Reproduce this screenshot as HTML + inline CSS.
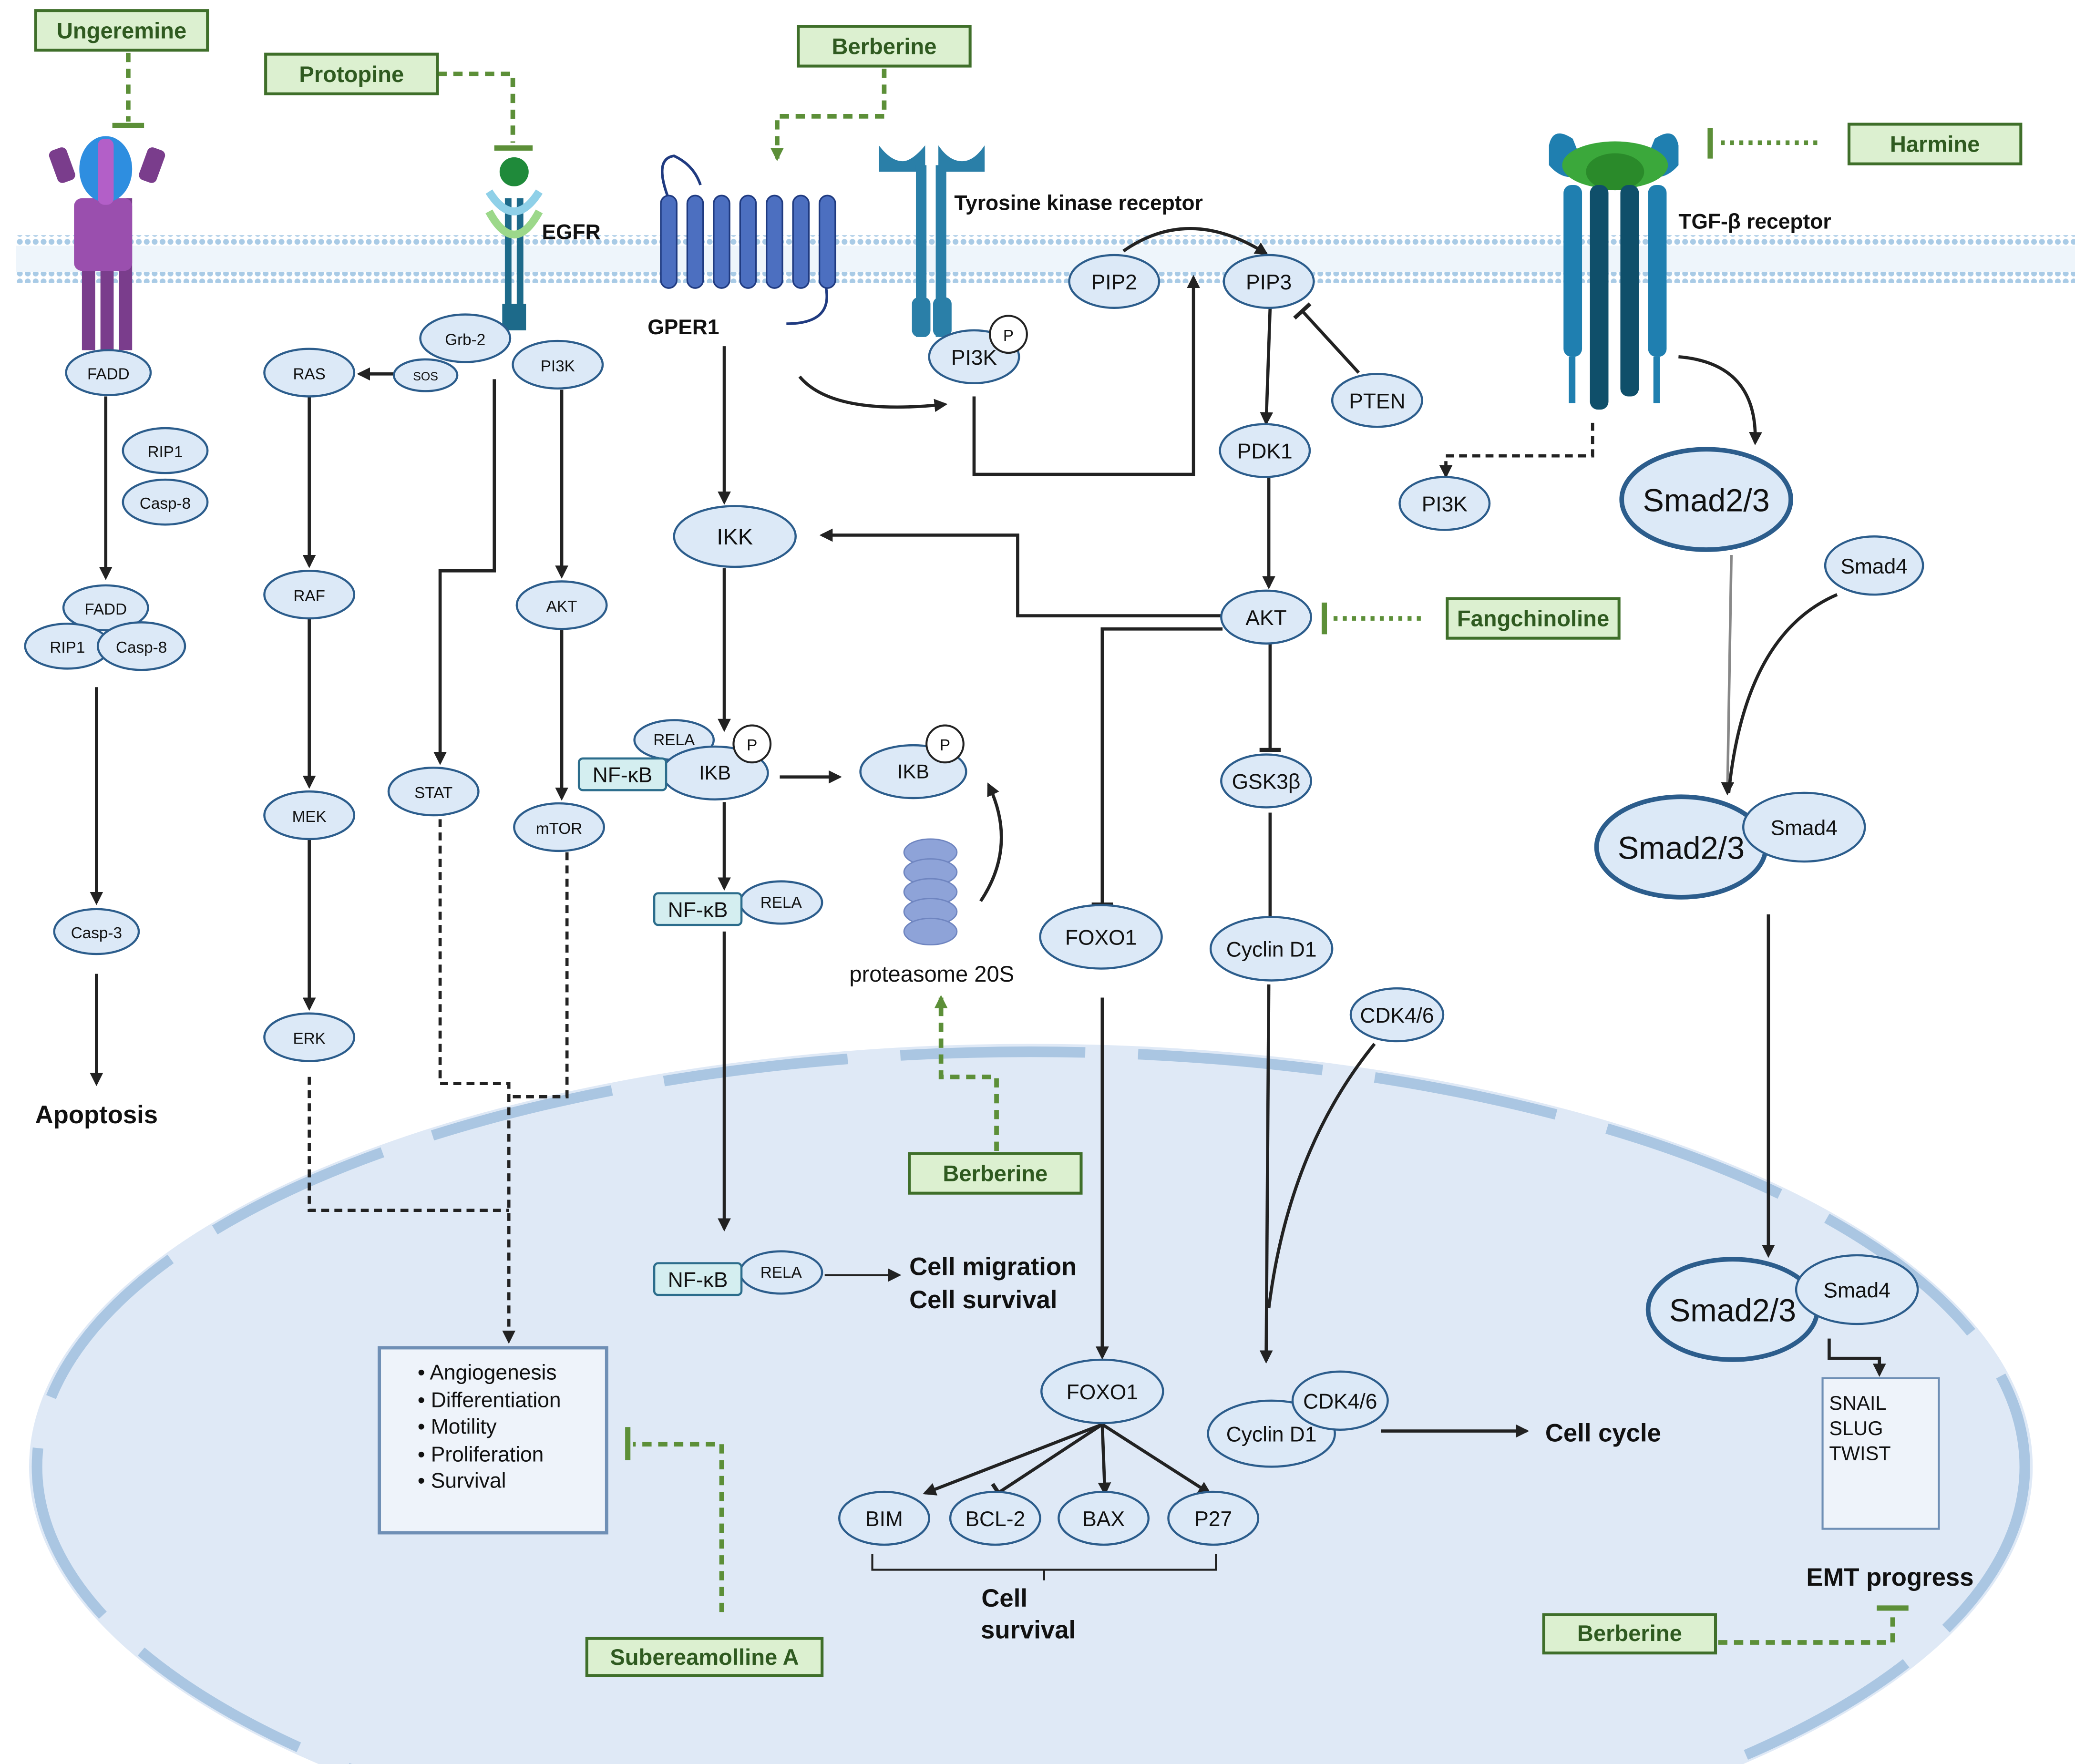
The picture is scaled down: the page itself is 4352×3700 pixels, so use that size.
<!DOCTYPE html>
<html><head><meta charset="utf-8">
<style>
html,body{margin:0;padding:0;background:#fff;overflow:hidden;width:4352px;height:3700px;}
svg{display:block;}
text{font-family:"Liberation Sans",sans-serif;fill:#111;}
.n{fill:#dce9f7;stroke:#2c5d8c;stroke-width:1.6;}
.nb{fill:#dce9f7;stroke:#2c5d8c;stroke-width:3.5;}
.g{fill:#dcf0d0;stroke:#3f6f2a;stroke-width:2.2;}
.gt{font-size:17px;font-weight:bold;text-anchor:middle;fill:#2f5a20;}
.t{font-size:15px;text-anchor:middle;}
.ts{font-size:12px;text-anchor:middle;}
.a{stroke:#222;stroke-width:2.4;fill:none;}
.d{stroke:#222;stroke-width:2.4;fill:none;stroke-dasharray:6 4;}
.gd{stroke:#5c8f38;stroke-width:3.5;fill:none;stroke-dasharray:7 5;}
.gb{stroke:#5c8f38;stroke-width:4;fill:none;}
.b{font-size:19px;font-weight:bold;text-anchor:middle;}
</style></head><body>
<svg width="4352" height="3700" viewBox="0 0 1570 1335" preserveAspectRatio="none" xmlns="http://www.w3.org/2000/svg">
<defs>
<marker id="ar" markerWidth="10" markerHeight="10" refX="8" refY="5" orient="auto" markerUnits="userSpaceOnUse"><path d="M0,0 L10,5 L0,10 z" fill="#222"/></marker>
<marker id="ag" markerWidth="10" markerHeight="10" refX="8" refY="5" orient="auto" markerUnits="userSpaceOnUse"><path d="M0,0 L10,5 L0,10 z" fill="#5c8f38"/></marker>
<marker id="tb" markerWidth="4" markerHeight="16" refX="2" refY="8" orient="auto" markerUnits="userSpaceOnUse"><rect x="0" y="0" width="3" height="16" fill="#222"/></marker>
<pattern id="mem" width="6" height="6" patternUnits="userSpaceOnUse"><circle cx="3" cy="3" r="2.2" fill="#a9cbe6"/></pattern>
</defs>
<rect width="1570" height="1335" fill="#fff"/>
<!-- nucleus -->
<ellipse cx="780" cy="1110" rx="758" ry="320" fill="#dfe9f6"/>
<ellipse cx="780" cy="1110" rx="752" ry="314" fill="none" stroke="#aac6e2" stroke-width="8" stroke-dasharray="140 40"/>
<!-- membrane -->
<rect x="12" y="178" width="1558" height="8" fill="url(#mem)"/>
<rect x="12" y="206" width="1558" height="8" fill="url(#mem)"/>
<rect x="12" y="186" width="1558" height="20" fill="#eef5fb"/>

<!-- receptors (simplified) -->
<g fill="#7a3d8c">
<rect x="62" y="150" width="10" height="115"/><rect x="76" y="150" width="10" height="115"/><rect x="90" y="150" width="10" height="115"/>
<rect x="40" y="112" width="14" height="26" rx="4" transform="rotate(-20 47 125)"/><rect x="108" y="112" width="14" height="26" rx="4" transform="rotate(20 115 125)"/>
<rect x="56" y="150" width="44" height="55" rx="6" fill="#9a4fae"/>
</g>
<ellipse cx="80" cy="128" rx="20" ry="25" fill="#2e8ee0"/>
<rect x="74" y="105" width="12" height="50" rx="5" fill="#b35fc8"/>
<!-- EGFR -->
<g>
<rect x="382" y="150" width="5" height="95" fill="#1d6a8a"/><rect x="391" y="150" width="5" height="95" fill="#1d6a8a"/>
<rect x="380" y="230" width="18" height="20" fill="#1d6a8a"/>
<circle cx="389" cy="130" r="11" fill="#1f8a3a"/>
<path d="M370,145 Q389,175 408,145" stroke="#8fd0e8" stroke-width="6" fill="none"/>
<path d="M370,160 Q389,195 408,160" stroke="#9cd88a" stroke-width="6" fill="none"/>
</g>
<!-- GPER1 -->
<g fill="#4c6fc0" stroke="#1f3a80" stroke-width="1.2">
<rect x="500" y="148" width="12" height="70" rx="6"/><rect x="520" y="148" width="12" height="70" rx="6"/><rect x="540" y="148" width="12" height="70" rx="6"/><rect x="560" y="148" width="12" height="70" rx="6"/><rect x="580" y="148" width="12" height="70" rx="6"/><rect x="600" y="148" width="12" height="70" rx="6"/><rect x="620" y="148" width="12" height="70" rx="6"/>
</g>
<path d="M505,148 Q495,120 510,118 Q525,125 530,140 M625,218 Q630,245 595,245" stroke="#1f3a80" stroke-width="2" fill="none"/>
<!-- Tyrosine kinase receptor -->
<g fill="#2a7fa8">
<path d="M665,110 L665,130 L700,130 L700,110 Q690,122 683,122 Q674,122 665,110z"/>
<path d="M710,110 L710,130 L745,130 L745,110 Q737,122 728,122 Q718,122 710,110z"/>
<rect x="693" y="125" width="8" height="130"/><rect x="708" y="125" width="8" height="130"/>
<rect x="690" y="225" width="14" height="30" rx="5"/><rect x="706" y="225" width="14" height="30" rx="5"/>
</g>
<!-- TGF-beta receptor -->
<g>
<path d="M1172,110 Q1175,95 1190,105 L1200,130 Q1185,140 1172,125z" fill="#1f7fb0"/>
<path d="M1270,110 Q1267,95 1252,105 L1242,130 Q1257,140 1270,125z" fill="#1f7fb0"/>
<ellipse cx="1222" cy="125" rx="40" ry="18" fill="#3ba83b"/>
<ellipse cx="1222" cy="130" rx="22" ry="14" fill="#2a8a2a"/>
<rect x="1183" y="140" width="14" height="130" rx="6" fill="#1f7fb0"/><rect x="1203" y="140" width="14" height="170" rx="6" fill="#0f4f6a"/><rect x="1226" y="140" width="14" height="160" rx="6" fill="#0f4f6a"/><rect x="1247" y="140" width="14" height="130" rx="6" fill="#1f7fb0"/>
<rect x="1187" y="270" width="5" height="35" fill="#1f7fb0"/><rect x="1251" y="270" width="5" height="35" fill="#1f7fb0"/>
</g>
<!-- proteasome -->
<g fill="#8ea3d8" stroke="#6f85c0" stroke-width="1">
<ellipse cx="704" cy="645" rx="20" ry="10"/><ellipse cx="704" cy="660" rx="20" ry="10"/><ellipse cx="704" cy="675" rx="20" ry="10"/><ellipse cx="704" cy="690" rx="20" ry="10"/><ellipse cx="704" cy="705" rx="20" ry="10"/>
</g>
<text x="705" y="743" class="t" style="font-size:17px">proteasome 20S</text>

<!-- labels -->
<text x="722" y="159" style="font-size:16px;font-weight:bold">Tyrosine kinase receptor</text>
<text x="410" y="181" style="font-size:16px;font-weight:bold">EGFR</text>
<text x="490" y="253" style="font-size:16px;font-weight:bold">GPER1</text>
<text x="1270" y="173" style="font-size:16px;font-weight:bold">TGF-β receptor</text>

<!-- connectors -->
<path class="a" d="M80,300 V437" marker-end="url(#ar)"/>
<path class="a" d="M73,520 V683" marker-end="url(#ar)"/>
<path class="a" d="M73,737 V820" marker-end="url(#ar)"/>
<path class="a" d="M299,283 H272" marker-end="url(#ar)"/>
<path class="a" d="M234,300 V428" marker-end="url(#ar)"/>
<path class="a" d="M234,468 V595" marker-end="url(#ar)"/>
<path class="a" d="M234,635 V763" marker-end="url(#ar)"/>
<path class="a" d="M425,295 V436" marker-end="url(#ar)"/>
<path class="a" d="M425,477 V604" marker-end="url(#ar)"/>
<path class="a" d="M374,287 V432 H333 V577" marker-end="url(#ar)"/>
<path class="d" d="M234,815 V916 H385"/>
<path class="d" d="M333,620 V820 H385 V1015" marker-end="url(#ar)"/>
<path class="d" d="M429,645 V830 H385"/>
<path class="a" d="M548,262 V380" marker-end="url(#ar)"/>
<path class="a" d="M548,430 V552" marker-end="url(#ar)"/>
<path class="a" d="M590,588 H635" marker-end="url(#ar)"/>
<path class="a" d="M548,607 V672" marker-end="url(#ar)"/>
<path class="a" d="M548,705 V930" marker-end="url(#ar)"/>
<path stroke="#222" stroke-width="1.5" fill="none" d="M624,965 H680" marker-end="url(#ar)"/>
<path class="a" stroke-width="1.8" d="M742,682 Q770,640 748,594" marker-end="url(#ar)"/>
<path class="a" d="M605,285 Q630,315 715,306" marker-end="url(#ar)"/>
<path class="a" d="M737,300 V359 H903 V210" marker-end="url(#ar)"/>
<path class="a" stroke-width="1.8" d="M850,190 Q900,155 958,192" marker-end="url(#ar)"/>
<path class="a" d="M961,233 L958,320" marker-end="url(#ar)"/>
<path class="a" d="M1028,282 L985,235" marker-end="url(#tb)"/>
<path class="a" d="M960,360 V444" marker-end="url(#ar)"/>
<path class="a" d="M925,466 H770 V405 H622" marker-end="url(#ar)"/>
<path class="a" d="M925,476 H834 V685" marker-end="url(#tb)"/>
<path class="a" d="M961,487 V568" marker-end="url(#tb)"/>
<path class="a" d="M961,615 V696" marker-end="url(#tb)"/>
<path class="a" d="M834,755 V1027" marker-end="url(#ar)"/>
<path class="a" stroke-width="3.5" d="M960,745 L958,1030" marker-end="url(#ar)" stroke="#555"/>
<path class="a" stroke-width="1.5" d="M1040,790 Q975,870 960,990"/>
<path class="a" stroke-width="1.5" d="M834,1078 L700,1130" marker-end="url(#ar)"/>
<path class="a" stroke-width="1.5" d="M834,1078 L755,1130" marker-end="url(#tb)"/>
<path class="a" stroke-width="1.5" d="M834,1078 L836,1130" marker-end="url(#ar)"/>
<path class="a" stroke-width="1.5" d="M834,1078 L915,1130" marker-end="url(#ar)"/>
<path stroke="#222" stroke-width="1.5" fill="none" d="M660,1176 V1188 H920 V1176 M790,1188 V1196"/>
<path class="a" stroke-width="3" d="M1045,1083 H1155" marker-end="url(#ar)"/>
<path class="a" stroke-width="1.8" d="M1270,270 Q1330,275 1328,335" marker-end="url(#ar)"/>
<path class="d" d="M1205,320 V345 H1094 V360" marker-end="url(#ar)"/>
<path stroke="#888" stroke-width="2" fill="none" d="M1310,420 L1307,600" marker-end="url(#ar)"/>
<path class="a" stroke-width="1.3" d="M1390,450 Q1320,480 1308,600"/>
<path class="a" d="M1338,692 V950" marker-end="url(#ar)"/>
<path class="a" stroke-width="1.5" d="M1384,1013 V1028 H1422 V1040" marker-end="url(#ar)"/>

<!-- green inhibitors -->
<path class="gd" d="M97,40 V92"/><path class="gb" d="M85,95 H109"/>
<path class="gd" d="M331,56 H388 V108"/><path class="gb" d="M374,112 H403"/>
<path class="gd" d="M669,52 V88 H588 V120" marker-end="url(#ag)"/>
<path class="gd" d="M1375,108 H1298" style="stroke-dasharray:3 4"/><path class="gb" d="M1294,97 V120"/>
<path class="gd" d="M1075,468 H1006" style="stroke-dasharray:3 4"/><path class="gb" d="M1002,456 V480"/>
<path class="gd" d="M754,871 V815 H712 V755" marker-end="url(#ag)"/>
<path class="gd" d="M546,1220 V1093 H479"/><path class="gb" d="M475,1080 V1105"/>
<path class="gd" d="M1300,1243 H1432 V1220"/><path class="gb" d="M1420,1217 H1444"/>

<!-- nodes -->
<g>
<ellipse class="n" cx="82" cy="282" rx="32" ry="17"/><text x="82" y="287" class="ts">FADD</text>
<ellipse class="n" cx="125" cy="341" rx="32" ry="17"/><text x="125" y="346" class="ts">RIP1</text>
<ellipse class="n" cx="125" cy="380" rx="32" ry="17"/><text x="125" y="385" class="ts">Casp-8</text>
<ellipse class="n" cx="80" cy="460" rx="32" ry="17"/><text x="80" y="465" class="ts">FADD</text>
<ellipse class="n" cx="51" cy="489" rx="32" ry="17"/><text x="51" y="494" class="ts">RIP1</text>
<ellipse class="n" cx="107" cy="489" rx="33" ry="18"/><text x="107" y="494" class="ts">Casp-8</text>
<ellipse class="n" cx="73" cy="705" rx="32" ry="17"/><text x="73" y="710" class="ts">Casp-3</text>
<ellipse class="n" cx="352" cy="256" rx="34" ry="18"/><text x="352" y="261" class="ts">Grb-2</text>
<ellipse class="n" cx="322" cy="284" rx="24" ry="12"/><text x="322" y="288" class="ts" style="font-size:9px">SOS</text>
<ellipse class="n" cx="234" cy="282" rx="34" ry="18"/><text x="234" y="287" class="ts">RAS</text>
<ellipse class="n" cx="422" cy="276" rx="34" ry="18"/><text x="422" y="281" class="ts">PI3K</text>
<ellipse class="n" cx="234" cy="450" rx="34" ry="18"/><text x="234" y="455" class="ts">RAF</text>
<ellipse class="n" cx="234" cy="617" rx="34" ry="18"/><text x="234" y="622" class="ts">MEK</text>
<ellipse class="n" cx="234" cy="785" rx="34" ry="18"/><text x="234" y="790" class="ts">ERK</text>
<ellipse class="n" cx="425" cy="458" rx="34" ry="18"/><text x="425" y="463" class="ts">AKT</text>
<ellipse class="n" cx="423" cy="626" rx="34" ry="18"/><text x="423" y="631" class="ts">mTOR</text>
<ellipse class="n" cx="328" cy="599" rx="34" ry="18"/><text x="328" y="604" class="ts">STAT</text>
<ellipse class="n" cx="556" cy="406" rx="46" ry="23"/><text x="556" y="412" class="t" style="font-size:17px">IKK</text>
<ellipse class="n" cx="510" cy="560" rx="30" ry="15"/><text x="510" y="564" class="ts">RELA</text>
<ellipse class="n" cx="541" cy="585" rx="40" ry="20"/><text x="541" y="590" class="t">IKB</text>
<circle cx="569" cy="563" r="14" fill="#fff" stroke="#222" stroke-width="1.5"/><text x="569" y="568" class="ts">P</text>
<rect x="438" y="574" width="66" height="24" rx="3" fill="#d4eef0" stroke="#2c6d8c" stroke-width="1.6"/><text x="471" y="592" class="t" style="font-size:16px">NF-κB</text>
<ellipse class="n" cx="691" cy="584" rx="40" ry="20"/><text x="691" y="589" class="t">IKB</text>
<circle cx="715" cy="563" r="14" fill="#fff" stroke="#222" stroke-width="1.5"/><text x="715" y="568" class="ts">P</text>
<ellipse class="n" cx="591" cy="683" rx="31" ry="16"/><text x="591" y="687" class="ts">RELA</text>
<rect x="495" y="676" width="66" height="24" rx="3" fill="#d4eef0" stroke="#2c6d8c" stroke-width="1.6"/><text x="528" y="694" class="t" style="font-size:16px">NF-κB</text>
<ellipse class="n" cx="591" cy="963" rx="31" ry="16"/><text x="591" y="967" class="ts">RELA</text>
<rect x="495" y="956" width="66" height="24" rx="3" fill="#d4eef0" stroke="#2c6d8c" stroke-width="1.6"/><text x="528" y="974" class="t" style="font-size:16px">NF-κB</text>
<ellipse class="n" cx="737" cy="270" rx="34" ry="20"/><text x="737" y="276" class="t" style="font-size:16px">PI3K</text>
<circle cx="763" cy="253" r="14" fill="#fff" stroke="#222" stroke-width="1.5"/><text x="763" y="258" class="ts">P</text>
<ellipse class="n" cx="843" cy="213" rx="34" ry="20"/><text x="843" y="219" class="t" style="font-size:16px">PIP2</text>
<ellipse class="n" cx="960" cy="213" rx="34" ry="20"/><text x="960" y="219" class="t" style="font-size:16px">PIP3</text>
<ellipse class="n" cx="1042" cy="303" rx="34" ry="20"/><text x="1042" y="309" class="t" style="font-size:16px">PTEN</text>
<ellipse class="n" cx="957" cy="341" rx="34" ry="20"/><text x="957" y="347" class="t" style="font-size:16px">PDK1</text>
<ellipse class="n" cx="958" cy="467" rx="34" ry="20"/><text x="958" y="473" class="t" style="font-size:16px">AKT</text>
<ellipse class="n" cx="958" cy="591" rx="34" ry="20"/><text x="958" y="597" class="t" style="font-size:16px">GSK3β</text>
<ellipse class="n" cx="962" cy="718" rx="46" ry="24"/><text x="962" y="724" class="t" style="font-size:16px">Cyclin D1</text>
<ellipse class="n" cx="833" cy="709" rx="46" ry="24"/><text x="833" y="715" class="t" style="font-size:16px">FOXO1</text>
<ellipse class="n" cx="1057" cy="768" rx="35" ry="20"/><text x="1057" y="774" class="t" style="font-size:16px">CDK4/6</text>
<ellipse class="n" cx="1093" cy="381" rx="34" ry="20"/><text x="1093" y="387" class="t" style="font-size:16px">PI3K</text>
<ellipse class="nb" cx="1291" cy="378" rx="64" ry="38"/><text x="1291" y="387" class="t" style="font-size:24px">Smad2/3</text>
<ellipse class="n" cx="1418" cy="428" rx="37" ry="22"/><text x="1418" y="434" class="t" style="font-size:16px">Smad4</text>
<ellipse class="nb" cx="1272" cy="641" rx="64" ry="38"/><text x="1272" y="650" class="t" style="font-size:24px">Smad2/3</text>
<ellipse class="n" cx="1365" cy="626" rx="46" ry="26"/><text x="1365" y="632" class="t" style="font-size:16px">Smad4</text>
<ellipse class="nb" cx="1311" cy="991" rx="64" ry="38"/><text x="1311" y="1000" class="t" style="font-size:24px">Smad2/3</text>
<ellipse class="n" cx="1405" cy="976" rx="46" ry="26"/><text x="1405" y="982" class="t" style="font-size:16px">Smad4</text>
<ellipse class="n" cx="834" cy="1053" rx="46" ry="24"/><text x="834" y="1059" class="t" style="font-size:16px">FOXO1</text>
<ellipse class="n" cx="669" cy="1149" rx="34" ry="20"/><text x="669" y="1155" class="t" style="font-size:16px">BIM</text>
<ellipse class="n" cx="753" cy="1149" rx="34" ry="20"/><text x="753" y="1155" class="t" style="font-size:16px">BCL-2</text>
<ellipse class="n" cx="835" cy="1149" rx="34" ry="20"/><text x="835" y="1155" class="t" style="font-size:16px">BAX</text>
<ellipse class="n" cx="918" cy="1149" rx="34" ry="20"/><text x="918" y="1155" class="t" style="font-size:16px">P27</text>
<ellipse class="n" cx="962" cy="1085" rx="48" ry="25"/><text x="962" y="1091" class="t" style="font-size:16px">Cyclin D1</text>
<ellipse class="n" cx="1014" cy="1060" rx="36" ry="22"/><text x="1014" y="1066" class="t" style="font-size:16px">CDK4/6</text>
</g>

<!-- boxes -->
<rect x="287" y="1020" width="172" height="140" fill="#eef3fa" stroke="#6f8fb5" stroke-width="2.5"/>
<g style="font-size:16px">
<text x="316" y="1044">•  Angiogenesis</text>
<text x="316" y="1065">•  Differentiation</text>
<text x="316" y="1085">•  Motility</text>
<text x="316" y="1106">•  Proliferation</text>
<text x="316" y="1126">•  Survival</text>
</g>
<rect x="1379" y="1043" width="88" height="114" fill="#eef3fa" stroke="#6f8fb5" stroke-width="1.5"/>
<g style="font-size:15px"><text x="1384" y="1067">SNAIL</text><text x="1384" y="1086">SLUG</text><text x="1384" y="1105">TWIST</text></g>

<!-- bold text -->
<text x="73" y="850" class="b">Apoptosis</text>
<text x="688" y="965" style="font-size:19px;font-weight:bold">Cell migration</text>
<text x="688" y="990" style="font-size:19px;font-weight:bold">Cell survival</text>
<text x="760" y="1216" class="b">Cell</text>
<text x="778" y="1240" class="b">survival</text>
<text x="1213" y="1091" class="b">Cell cycle</text>
<text x="1430" y="1200" class="b">EMT progress</text>

<!-- green drug boxes -->
<rect class="g" x="27" y="8" width="130" height="30"/><text x="92" y="29" class="gt">Ungeremine</text>
<rect class="g" x="201" y="41" width="130" height="30"/><text x="266" y="62" class="gt">Protopine</text>
<rect class="g" x="604" y="20" width="130" height="30"/><text x="669" y="41" class="gt">Berberine</text>
<rect class="g" x="1399" y="94" width="130" height="30"/><text x="1464" y="115" class="gt">Harmine</text>
<rect class="g" x="1095" y="453" width="130" height="30"/><text x="1160" y="474" class="gt">Fangchinoline</text>
<rect class="g" x="688" y="873" width="130" height="30"/><text x="753" y="894" class="gt">Berberine</text>
<rect class="g" x="444" y="1240" width="178" height="28"/><text x="533" y="1260" class="gt">Subereamolline A</text>
<rect class="g" x="1168" y="1222" width="130" height="29"/><text x="1233" y="1242" class="gt">Berberine</text>
</svg>
</body></html>
